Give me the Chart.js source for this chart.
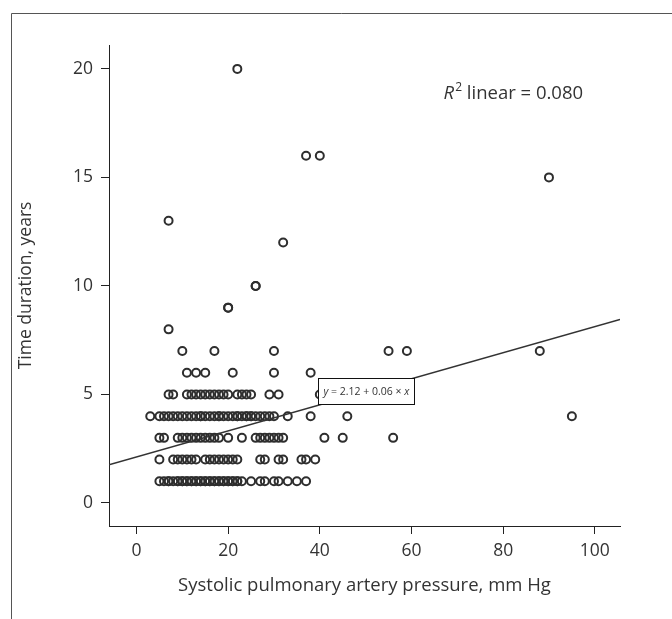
<!DOCTYPE html>
<html>
<head>
<meta charset="utf-8">
<script src="https://cdn.jsdelivr.net/npm/chart.js@4/dist/chart.umd.min.js"></script>
<style>
  body { margin: 0; background: #fff; }
  canvas { display: block; }
</style>
</head>
<body>
<canvas id="chart" width="672" height="619"></canvas>
<script>
// systolic pulmonary artery pressure (mm Hg) vs time duration (years), one pair per patient
var pressure = [
  // 1 year
  5, 6, 7, 7, 8, 9, 9, 10, 10, 11, 11, 12, 12, 13, 13, 14, 14, 15, 15, 16, 16, 17, 17, 18, 18, 19, 19,
  20, 20, 21, 21, 22, 22, 23, 25, 27, 28, 30, 31, 33, 35, 37,
  // 2 years
  5, 8, 9, 10, 11, 12, 13, 15, 16, 17, 18, 19, 20, 21, 22, 27, 28, 31, 32, 36, 37, 39,
  // 3 years
  5, 6, 9, 10, 11, 12, 13, 14, 15, 16, 17, 18, 20, 23, 26, 27, 28, 29, 30, 31, 32, 41, 45, 56,
  // 4 years
  3, 5, 6, 7, 8, 9, 10, 11, 12, 13, 14, 15, 16, 17, 18, 19, 20, 21, 22, 23, 24, 25, 26, 27, 28, 29,
  14, 18, 22, 24, 25, 30, 33, 38, 46, 95,
  // 5 years
  7, 8, 11, 12, 13, 14, 15, 16, 17, 18, 19, 20, 22, 23, 24, 25, 29, 31, 40,
  // 6 years
  11, 13, 15, 21, 30, 38,
  // 7 years and up
  10, 17, 30, 55, 59, 88,
  7, 20, 20, 26, 26, 32, 7, 90, 37, 40, 22
];
var duration = [
  1, 1, 1, 1, 1, 1, 1, 1, 1, 1, 1, 1, 1, 1, 1, 1, 1, 1, 1, 1, 1, 1, 1, 1, 1, 1, 1,
  1, 1, 1, 1, 1, 1, 1, 1, 1, 1, 1, 1, 1, 1, 1,
  2, 2, 2, 2, 2, 2, 2, 2, 2, 2, 2, 2, 2, 2, 2, 2, 2, 2, 2, 2, 2, 2,
  3, 3, 3, 3, 3, 3, 3, 3, 3, 3, 3, 3, 3, 3, 3, 3, 3, 3, 3, 3, 3, 3, 3, 3,
  4, 4, 4, 4, 4, 4, 4, 4, 4, 4, 4, 4, 4, 4, 4, 4, 4, 4, 4, 4, 4, 4, 4, 4, 4, 4,
  4, 4, 4, 4, 4, 4, 4, 4, 4, 4,
  5, 5, 5, 5, 5, 5, 5, 5, 5, 5, 5, 5, 5, 5, 5, 5, 5, 5, 5,
  6, 6, 6, 6, 6, 6,
  7, 7, 7, 7, 7, 7,
  8, 9, 9, 10, 10, 12, 13, 15, 16, 16, 20
];

// fitted line as printed on the chart
var intercept = 2.12;
var slope = 0.06;
var rSquared = '0.080';

var xTicks = [0, 20, 40, 60, 80, 100];
var yTicks = [0, 5, 10, 15, 20];
var xRange = [-6, 105.5];
var yRange = [-1.06, 21.1];

var FONT = '"Open Sans", "Noto Sans", sans-serif';
var INK = '#333333';

var points = pressure.map(function(p, i) { return { x: p, y: duration[i] }; });
var fitLine = xRange.map(function(x) { return { x: x, y: intercept + slope * x }; });

var extras = {
  id: 'extras',
  afterDraw: function(chart) {
    var ctx = chart.ctx;
    var xs = chart.scales.x, ys = chart.scales.y;
    ctx.save();

    // outer frame of the figure panel
    ctx.strokeStyle = '#555';
    ctx.lineWidth = 1;
    ctx.beginPath();
    ctx.moveTo(11.5, 619);
    ctx.lineTo(11.5, 13.5);
    ctx.lineTo(672, 13.5);
    ctx.stroke();

    // R^2 label
    ctx.fillStyle = INK;
    ctx.textBaseline = 'alphabetic';
    var rx = xs.getPixelForValue(67.0), ry = ys.getPixelForValue(18.6);
    ctx.font = 'italic 18.5px ' + FONT;
    ctx.fillText('R', rx, ry);
    rx += ctx.measureText('R').width + 1;
    ctx.font = '12px ' + FONT;
    ctx.fillText('2', rx, ry - 8);
    rx += ctx.measureText('2').width;
    ctx.font = '18.5px ' + FONT;
    ctx.fillText(' linear = ' + rSquared, rx, ry);

    // equation box
    var bx = Math.round(xs.getPixelForValue(39.6)) + 0.5;
    var by = Math.round(ys.getPixelForValue(5.76)) + 0.5;
    var parts = [
      { t: 'y', f: 'italic 10.5px ' + FONT },
      { t: ' = ' + intercept.toFixed(2) + ' + ' + slope.toFixed(2) + ' \u00d7 ', f: '10.5px ' + FONT },
      { t: 'x', f: 'italic 10.5px ' + FONT }
    ];
    var tw = 0;
    parts.forEach(function(p) { ctx.font = p.f; p.w = ctx.measureText(p.t).width; tw += p.w; });
    var bw = Math.round(tw + 10), bh = 26;
    ctx.fillStyle = '#fff';
    ctx.fillRect(bx, by, bw, bh);
    ctx.strokeStyle = '#111';
    ctx.lineWidth = 1;
    ctx.strokeRect(bx, by, bw, bh);
    ctx.fillStyle = INK;
    ctx.textBaseline = 'middle';
    var tx = bx + 5;
    parts.forEach(function(p) { ctx.font = p.f; ctx.fillText(p.t, tx, by + bh / 2 + 1); tx += p.w; });

    ctx.restore();
  }
};

function fixedTicks(list) {
  return function(scale) { scale.ticks = list.map(function(v) { return { value: v }; }); };
}

new Chart(document.getElementById('chart'), {
  type: 'scatter',
  data: {
    datasets: [
      {
        data: points,
        pointRadius: 4,
        pointBorderWidth: 2,
        pointBorderColor: '#2e2e2e',
        pointBackgroundColor: 'rgba(0,0,0,0)',
        order: 2
      },
      {
        type: 'line',
        data: fitLine,
        borderColor: '#333',
        borderWidth: 1.5,
        pointRadius: 0,
        fill: false,
        order: 1
      }
    ]
  },
  options: {
    responsive: false,
    animation: false,
    layout: { padding: { left: 0, top: 45, right: 52, bottom: 0 } },
    plugins: { legend: { display: false }, tooltip: { enabled: false } },
    scales: {
      x: {
        type: 'linear',
        min: xRange[0],
        max: xRange[1],
        afterBuildTicks: fixedTicks(xTicks),
        afterFit: function(s) { s.height = 93; },
        grid: { drawOnChartArea: false, tickLength: 8, color: '#222' },
        border: { color: '#222' },
        ticks: { color: INK, padding: 7, font: { family: FONT, size: 17.5 } },
        title: {
          display: true,
          text: 'Systolic pulmonary artery pressure, mm Hg',
          color: INK,
          font: { family: FONT, size: 18.5 },
          padding: { top: 0, bottom: 22 }
        }
      },
      y: {
        type: 'linear',
        min: yRange[0],
        max: yRange[1],
        afterBuildTicks: fixedTicks(yTicks),
        afterFit: function(s) { s.width = 109; },
        grid: { drawOnChartArea: false, tickLength: 8, color: '#222' },
        border: { color: '#222' },
        ticks: { color: INK, padding: 8, font: { family: FONT, size: 17.5 } },
        title: {
          display: true,
          text: 'Time duration, years',
          color: INK,
          font: { family: FONT, size: 17.5 },
          padding: { top: 16, bottom: 0 }
        }
      }
    }
  },
  plugins: [extras]
});
</script>
</body>
</html>
